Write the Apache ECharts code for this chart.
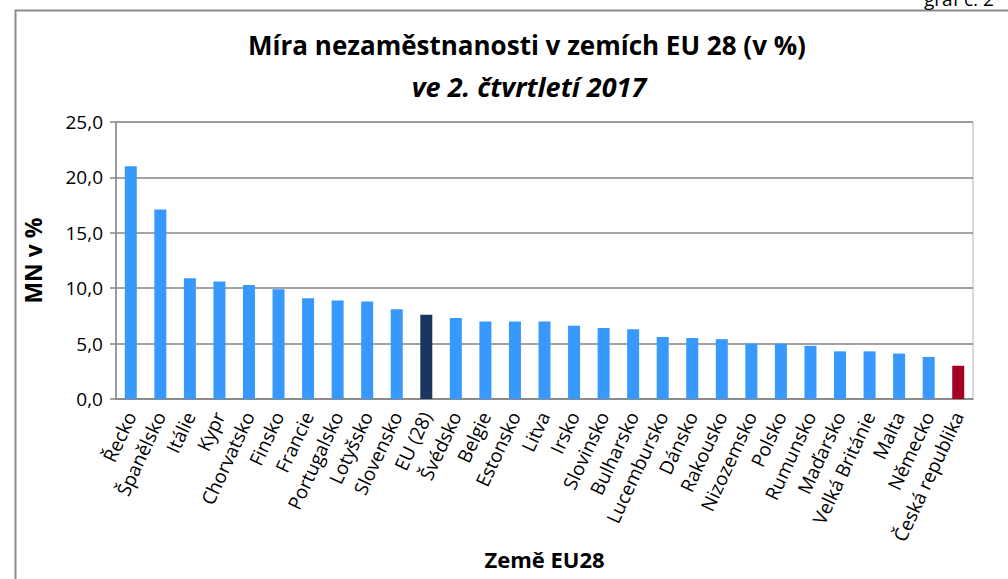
<!DOCTYPE html>
<html>
<head>
<meta charset="utf-8">
<script src="https://cdn.jsdelivr.net/npm/echarts@6/dist/echarts.min.js"></script>
<style>
  html, body { margin: 0; padding: 0; background: #fff; }
  #chart { width: 1008px; height: 579px; }
</style>
</head>
<body>
<div id="chart"></div>
<script>
// země a míra nezaměstnanosti (v %)
var countries = ['Řecko', 'Španělsko', 'Itálie', 'Kypr', 'Chorvatsko', 'Finsko', 'Francie',
  'Portugalsko', 'Lotyšsko', 'Slovensko', 'EU (28)', 'Švédsko', 'Belgie', 'Estonsko', 'Litva',
  'Irsko', 'Slovinsko', 'Bulharsko', 'Lucembursko', 'Dánsko', 'Rakousko', 'Nizozemsko',
  'Polsko', 'Rumunsko', 'Maďarsko', 'Velká Británie', 'Malta', 'Německo', 'Česká republika'];
var rates = [21.0, 17.1, 10.9, 10.6, 10.3, 9.9, 9.1, 8.9, 8.8, 8.1, 7.6, 7.3, 7.0, 7.0, 7.0,
  6.6, 6.4, 6.3, 5.6, 5.5, 5.4, 5.0, 5.0, 4.8, 4.3, 4.3, 4.1, 3.8, 3.0];
var yTicks = [0, 5, 10, 15, 20, 25];

var font = 'Open Sans';
var blue = '#3799fd', navy = '#1a3660', red = '#a50021';

var chart = echarts.init(document.getElementById('chart'), null, {renderer: 'svg'});

var barData = rates.map(function (v, i) {
  var c = blue;
  if (countries[i] === 'EU (28)') c = navy;
  if (countries[i] === 'Česká republika') c = red;
  return {value: v, itemStyle: {color: c}};
});

chart.setOption({
  animation: false,
  textStyle: {fontFamily: font},
  title: [{
    text: 'Míra nezaměstnanosti v zemích EU 28 (v %)',
    left: 522, textAlign: 'center', top: 27,
    textStyle: {fontFamily: font, fontSize: 26, fontWeight: 'bold', color: '#000'}
  }, {
    text: 've 2. čtvrtletí 2017',
    left: 524, textAlign: 'center', top: 68,
    textStyle: {fontFamily: font, fontSize: 27, fontWeight: 'bold', fontStyle: 'italic', color: '#000'}
  }],
  graphic: [
    // rámeček grafu
    {type: 'polyline', shape: {points: [[15.5, 579], [15.5, 10.5], [1008, 10.5]]},
      style: {stroke: '#8c8c8c', lineWidth: 2, fill: null}},
    {type: 'text', left: 924, top: -11, style: {text: 'graf č. 2', font: '19px "Open Sans"', fill: '#000'}}
  ],
  grid: {left: 116, right: 35, top: 122, bottom: 180, show: true, borderColor: '#b3b3b3', borderWidth: 1},
  xAxis: {
    type: 'category',
    data: countries,
    name: 'Země EU28',
    nameLocation: 'middle',
    nameGap: 141,
    nameTextStyle: {fontFamily: font, fontSize: 22, fontWeight: 'bold', color: '#000'},
    axisLine: {lineStyle: {color: '#868686', width: 1.5}},
    axisTick: {length: 6, lineStyle: {color: '#868686', width: 1.5}},
    axisLabel: {rotate: 65, interval: 0, fontSize: 19, color: '#000', fontFamily: font, margin: 14}
  },
  yAxis: {
    type: 'value',
    min: yTicks[0], max: yTicks[yTicks.length - 1], interval: 5,
    name: 'MN v %',
    nameLocation: 'middle',
    nameGap: 72,
    nameTextStyle: {fontFamily: font, fontSize: 23, fontWeight: 'bold', color: '#000'},
    axisLine: {show: true, lineStyle: {color: '#868686', width: 1.5}},
    axisTick: {show: true, length: 6, lineStyle: {color: '#868686', width: 1.5}},
    splitLine: {lineStyle: {color: '#868686', width: 1.5}},
    axisLabel: {
      fontSize: 19, color: '#000', fontFamily: font, margin: 13,
      formatter: function (v) { return v.toFixed(1).replace('.', ','); }
    }
  },
  series: [{
    type: 'bar',
    data: barData,
    barWidth: 12
  }]
});
</script>
</body>
</html>
